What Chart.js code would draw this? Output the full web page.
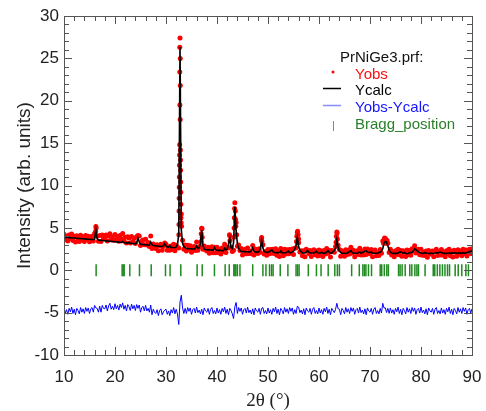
<!DOCTYPE html>
<html>
<head>
<meta charset="utf-8">
<script src="https://cdn.jsdelivr.net/npm/chart.js@4"></script>
<style>
  html, body { margin: 0; padding: 0; background: #fff; }
  #wrap { width: 486px; height: 411px; }
</style>
</head>
<body>
<div id="wrap"><canvas id="myChart" width="486" height="411"></canvas></div>
<script>
// scan grid: 10 to 90 deg, 0.25 deg steps
const scanStart = 10
const scanStep = 0.25

// observed intensity, one row per 2 degrees
const yObs = [
  4.25,3.64,4.02,3.46,4.15,3.74,4.27,3.51,
  4.00,3.34,4.07,3.81,3.40,4.14,3.57,3.96,
  3.40,4.09,3.62,4.01,3.35,3.89,4.02,3.46,
  4.35,5.15,4.03,3.42,4.09,3.38,4.16,3.80,
  3.73,4.17,3.45,4.04,4.32,3.61,3.94,3.53,
  4.21,3.60,3.98,3.42,4.10,3.69,4.35,3.46,
  3.89,3.23,3.96,3.80,3.23,3.97,3.40,3.79,
  3.17,3.96,4.09,4.03,2.91,3.45,3.58,3.02,
  3.65,2.99,3.27,2.81,4.04,2.58,3.11,2.75,
  2.58,3.02,2.30,2.89,3.07,2.36,2.79,3.23,
  3.06,2.35,2.73,2.37,2.85,2.44,3.08,2.31,
  2.95,2.69,2.63,27.40,6.65,3.54,2.48,2.97,
  2.26,2.95,2.49,2.88,2.12,2.66,2.80,2.34,
  3.33,2.37,2.76,2.80,4.95,2.48,2.87,2.42,
  2.26,2.70,2.00,2.59,2.78,2.07,2.72,2.06,
  2.70,2.09,2.49,1.93,2.62,2.21,3.06,2.10,
  2.69,2.63,4.08,2.72,2.21,2.35,7.95,5.64,
  2.83,2.97,2.32,2.56,1.80,2.35,2.49,1.94,
  2.63,1.97,2.27,1.96,2.91,1.80,2.50,2.14,
  1.99,2.53,2.13,3.85,3.02,1.92,2.21,1.76,
  2.46,1.95,2.45,2.00,2.49,1.99,2.54,1.78,
  2.28,1.63,2.58,2.12,1.72,2.47,1.92,2.41,
  1.96,2.46,2.01,2.51,1.86,2.61,2.65,4.45,
  3.25,2.15,2.30,1.70,2.29,1.59,2.49,2.34,
  1.99,2.34,1.63,2.23,2.43,1.83,2.28,1.68,
  2.38,1.78,2.27,1.62,2.32,1.92,2.57,2.02,
  2.32,1.57,2.32,2.27,2.11,2.81,4.51,2.96,
  2.46,1.66,2.31,2.06,1.66,2.41,1.86,2.36,
  1.91,2.71,2.05,2.35,1.60,2.15,2.30,1.85,
  2.60,1.80,2.20,1.80,2.50,1.85,2.50,2.10,
  1.95,2.45,1.60,2.20,2.40,1.70,2.05,1.75,
  2.45,2.00,3.45,3.55,3.75,3.15,3.20,2.10,
  2.49,1.79,2.14,1.59,2.29,1.89,2.49,1.84,
  2.34,1.64,2.29,2.14,1.63,2.38,1.83,2.33,
  1.78,2.53,2.23,2.88,2.03,2.43,2.48,1.83,
  2.48,1.78,2.13,1.73,2.28,1.53,2.33,1.98,
  1.88,2.28,1.58,2.23,2.48,1.73,2.14,1.79,
  2.44,1.79,2.14,1.59,2.29,1.94,2.49,1.70,
  2.25,1.55,2.35,2.11,1.66,2.41,1.91,2.27,
  1.72,2.47,1.97,2.38,1.68,2.28,2.49,1.99,
  2.54
]

// calculated profile on the same grid
const yCalc = [
  3.90,3.89,3.87,3.86,3.85,3.84,3.82,3.81,
  3.80,3.79,3.77,3.76,3.75,3.74,3.72,3.71,
  3.70,3.69,3.67,3.66,3.65,3.64,3.62,3.61,
  3.70,4.80,3.73,3.57,3.54,3.53,3.51,3.50,
  3.48,3.47,3.45,3.44,3.42,3.41,3.39,3.38,
  3.36,3.35,3.33,3.32,3.30,3.29,3.40,3.26,
  3.24,3.23,3.21,3.30,3.18,3.17,3.15,3.14,
  3.12,3.21,3.79,3.33,3.06,3.05,3.03,3.02,
  3.00,2.99,2.97,2.96,3.34,3.03,2.91,2.90,
  2.88,2.87,2.85,2.84,2.82,2.81,2.89,3.13,
  2.86,2.75,2.73,2.92,2.70,2.69,2.68,2.66,
  2.75,3.04,4.23,26.35,4.80,3.19,2.78,2.67,
  2.56,2.55,2.54,2.53,2.52,2.51,2.50,2.59,
  2.88,2.57,2.66,3.15,4.74,2.93,2.52,2.42,
  2.41,2.40,2.40,2.39,2.38,2.37,2.67,2.41,
  2.35,2.34,2.34,2.33,2.32,2.31,2.61,2.40,
  2.49,3.08,3.78,2.67,2.56,3.25,7.45,4.64,
  3.13,2.57,2.37,2.21,2.20,2.20,2.19,2.19,
  2.18,2.17,2.17,2.31,2.66,2.25,2.15,2.14,
  2.14,2.23,2.53,3.55,2.62,2.22,2.16,2.11,
  2.11,2.20,2.30,2.40,2.19,2.09,2.09,2.08,
  2.08,2.08,2.28,2.07,2.07,2.07,2.07,2.16,
  2.26,2.06,2.06,2.16,2.26,2.46,2.95,3.90,
  2.80,2.35,2.20,2.05,2.04,2.04,2.14,2.34,
  2.14,2.04,2.03,2.03,2.03,2.13,2.23,2.03,
  2.03,2.03,2.12,2.02,2.02,2.02,2.12,2.32,
  2.12,2.02,2.02,2.22,2.31,2.61,3.61,2.71,
  2.26,2.11,2.01,2.01,2.01,2.01,2.01,2.11,
  2.21,2.31,2.10,2.00,2.00,2.00,2.00,2.10,
  2.15,2.00,2.10,2.15,2.25,2.30,2.15,2.10,
  2.10,2.15,2.00,2.00,2.00,2.00,2.00,2.10,
  2.15,2.25,2.55,3.20,3.39,3.34,2.89,2.39,
  2.14,2.04,1.99,1.99,1.99,1.99,2.04,2.14,
  2.14,2.09,1.99,2.09,1.98,1.98,1.98,2.08,
  2.08,2.13,2.28,2.53,2.43,2.28,2.18,2.08,
  2.03,1.98,2.03,2.08,2.03,1.98,1.98,1.98,
  2.03,1.98,1.98,2.03,2.08,2.03,2.09,2.14,
  2.09,2.04,1.99,1.99,1.99,2.04,2.04,2.00,
  2.05,2.00,2.05,2.06,2.01,2.01,2.06,2.02,
  2.02,2.07,2.02,2.03,2.08,2.13,2.19,2.24,
  2.29
]

// extra observed points on the flanks of the strong peaks
const peakTheta = [32.70,32.80,32.70,32.80,32.72,32.78,32.68,32.82,32.66,32.84,32.64,32.86,32.62,32.88,32.60,32.90,32.58,32.92,32.56,32.94,32.54,32.97,32.52,33.05,
  43.40,43.45,43.60,43.65,43.35,43.70,43.30,43.85,42.45,42.55,
  36.90,37.05,37.10,36.85, 55.65,55.80,55.90,55.60,56.00,
  63.40,63.55,63.60,63.35, 72.85,73.10,73.35,72.65, 48.70,48.80, 16.20,16.30]
const peakObs = [26.3,25.0,23.4,21.8,19.5,17.8,14.8,14.2,13.6,13.0,12.4,11.8,11.0,10.4,9.8,9.2,8.5,7.8,7.0,6.2,5.4,5.6,4.2,5.2,
  6.2,7.3,7.0,6.0,5.0,5.2,3.9,4.2,4.2,3.5,
  4.3,4.9,3.9,3.4, 4.0,4.6,4.2,3.4,3.7,
  4.0,4.4,3.7,3.3, 3.8,3.6,3.5,3.2, 3.6,3.4, 4.6,5.0]

const diffOffset = -4.8

const braggPos = [16.3,21.4,21.6,21.8,22.9,24.8,27.1,29.9,30.8,32.9,36.1,37.1,39.5,41.6,42.4,43.3,43.5,43.7,44.0,44.5,
  47.0,49.0,49.6,50.3,50.7,51.0,52.4,53.9,55.5,55.8,56.1,57.9,59.5,60.4,61.8,63.1,63.6,64.0,
  66.4,67.9,68.6,68.9,69.2,69.7,70.3,72.0,72.3,72.8,73.3,73.6,75.6,75.9,76.3,76.9,
  77.8,78.2,78.8,79.2,79.5,80.8,82.4,82.7,83.2,83.7,84.2,84.7,85.2,85.6,86.7,87.3,88.0,88.8,89.3]

const legendTitle = 'PrNiGe3.prf:'
const legendLabels = ['Yobs', 'Ycalc', 'Yobs-Ycalc', 'Bragg_position']
const legendColors = ['#ff1010', '#000000', '#1515ff', '#2a7f2a']

const twoTheta = yObs.map((_, i) => scanStart + i * scanStep)
const obsPoints = twoTheta.map((t, i) => ({x: t, y: yObs[i]}))
  .concat(peakTheta.map((t, i) => ({x: t, y: peakObs[i]})))
const calcPoints = twoTheta.map((t, i) => ({x: t, y: yCalc[i]}))
const diffPoints = twoTheta.map((t, i) => ({x: t, y: yObs[i] - yCalc[i] + diffOffset}))
const braggPoints = braggPos.map(t => ({x: t, y: 0}))

const sans = "'Liberation Sans', Arial, sans-serif"

// inward ticks on all four sides plus the box
const frameTicks = {
  id: 'frameTicks',
  afterDatasetsDraw(chart) {
    const {ctx, chartArea: a, scales: {x, y}} = chart
    ctx.save()
    ctx.strokeStyle = '#555'
    ctx.lineWidth = 1
    ctx.beginPath()
    for (let v = 10; v <= 90; v += 2) {
      const px = Math.round(x.getPixelForValue(v)) + 0.5
      const len = v % 10 == 0 ? 8 : 5
      ctx.moveTo(px, a.bottom); ctx.lineTo(px, a.bottom - len)
      ctx.moveTo(px, a.top); ctx.lineTo(px, a.top + len)
    }
    for (let v = -10; v <= 30; v++) {
      const py = Math.round(y.getPixelForValue(v)) + 0.5
      const len = v % 5 == 0 ? 8 : 5
      ctx.moveTo(a.left, py); ctx.lineTo(a.left + len, py)
      ctx.moveTo(a.right, py); ctx.lineTo(a.right - len, py)
    }
    ctx.stroke()
    ctx.strokeRect(Math.round(a.left) + 0.5, Math.round(a.top) + 0.5,
      Math.round(a.right - a.left), Math.round(a.bottom - a.top))
    ctx.restore()
  }
}

const legendBox = {
  id: 'legendBox',
  afterDraw(chart) {
    const ctx = chart.ctx
    ctx.save()
    ctx.font = '15px ' + sans
    ctx.textBaseline = 'middle'
    ctx.fillStyle = '#111'
    ctx.fillText(legendTitle, 340, 58)
    const rows = [75, 91, 108, 125]
    legendLabels.forEach((lab, i) => {
      ctx.fillStyle = legendColors[i]
      ctx.fillText(lab, 355, rows[i])
    })
    // markers
    ctx.fillStyle = '#ff0000'
    ctx.beginPath(); ctx.arc(333, 72, 1.5, 0, Math.PI * 2); ctx.fill()
    ctx.lineWidth = 1.5
    ctx.strokeStyle = '#000'
    ctx.beginPath(); ctx.moveTo(323, 88.5); ctx.lineTo(341, 88.5); ctx.stroke()
    ctx.strokeStyle = '#8a8aff'
    ctx.beginPath(); ctx.moveTo(323, 105.5); ctx.lineTo(341, 105.5); ctx.stroke()
    ctx.strokeStyle = '#5aa85a'
    ctx.lineWidth = 1
    ctx.beginPath(); ctx.moveTo(333.5, 121); ctx.lineTo(333.5, 131); ctx.stroke()
    ctx.restore()
  }
}

const ctx = document.getElementById('myChart').getContext('2d')
const xrdChart = new Chart(ctx, {
  type: 'scatter',
  data: {
    datasets: [{
      label: 'Ycalc',
      data: calcPoints,
      showLine: true,
      borderColor: '#000',
      borderWidth: 1.6,
      pointRadius: 0,
      order: 1
    }, {
      label: 'Yobs',
      data: obsPoints,
      showLine: false,
      backgroundColor: '#ff0000',
      borderWidth: 0,
      pointRadius: 2.5,
      order: 2
    }, {
      label: 'Yobs-Ycalc',
      data: diffPoints,
      showLine: true,
      borderColor: '#0000ff',
      borderWidth: 1,
      pointRadius: 0,
      order: 3
    }, {
      label: 'Bragg_position',
      data: braggPoints,
      showLine: false,
      pointStyle: 'line',
      rotation: 90,
      pointRadius: 6,
      borderWidth: 1.5,
      borderColor: '#1f8a1f',
      order: 4
    }]
  },
  options: {
    responsive: false,
    animation: false,
    layout: { padding: { top: 16, right: 14, left: 0, bottom: 0 } },
    plugins: { legend: { display: false }, tooltip: { enabled: false } },
    scales: {
      x: {
        type: 'linear',
        min: 10, max: 90,
        afterFit: s => { s.height = 56; s.paddingRight = 0; s.paddingLeft = 0 },
        grid: { display: false, drawTicks: false },
        border: { display: false },
        ticks: { stepSize: 10, padding: 12, maxRotation: 0, color: '#222', font: { family: sans, size: 17 } },
        title: { display: true, text: '2θ (°)', color: '#222', padding: { top: 0, bottom: 0 },
          font: { family: "'Liberation Serif', 'Times New Roman', serif", size: 19, lineHeight: 1 } }
      },
      y: {
        min: -10, max: 30,
        afterFit: s => { s.width = 64; s.paddingTop = 0; s.paddingBottom = 0 },
        grid: { display: false, drawTicks: false },
        border: { display: false },
        ticks: { stepSize: 5, padding: 5, color: '#222', font: { family: sans, size: 17 } },
        title: { display: true, text: 'Intensity (arb. units)', color: '#222', padding: { top: 13, bottom: 0 },
          font: { family: sans, size: 19 } }
      }
    }
  },
  plugins: [frameTicks, legendBox]
})
</script>
</body>
</html>
